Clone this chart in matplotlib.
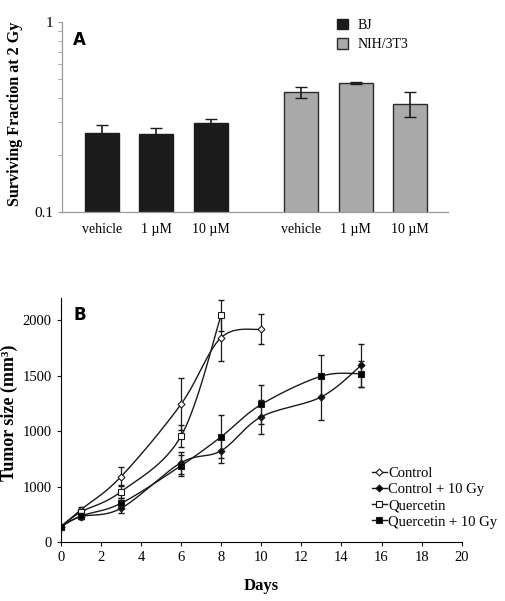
import numpy as np
import matplotlib
matplotlib.use('Agg')
import matplotlib.pyplot as plt
from matplotlib.ticker import FixedLocator, NullFormatter

plt.rcParams['font.family'] = ['Liberation Serif', 'DejaVu Serif']

# Panel A - surviving fraction at 2 Gy
dose_labels = ['vehicle', '1 \u00b5M', '10 \u00b5M']
bj_sf = [0.262, 0.258, 0.293]
bj_err = [0.027, 0.018, 0.018]
nih_sf = [0.428, 0.477, 0.373]
nih_err = [0.027, 0.006, 0.055]

# Panel B - tumor growth
days_short = [0, 1, 3, 6, 8]
days_ctrl = [0, 1, 3, 6, 8, 10]
days_long = [0, 1, 3, 6, 8, 10, 13, 15]
control = [138, 290, 588, 1243, 1844, 1919]
control_err = [0, 30, 85, 232, 213, 135]
control_irr = [138, 228, 303, 715, 823, 1129, 1309, 1595]
control_irr_err = [0, 25, 45, 100, 108, 155, 210, 195]
quercetin = [138, 270, 453, 955, 2045]
quercetin_err = [0, 25, 60, 100, 140]
quercetin_irr = [138, 234, 348, 688, 949, 1241, 1496, 1517]
quercetin_irr_err = [0, 30, 50, 95, 195, 175, 190, 117]
ytick_vals = [0, 500, 1000, 1500, 2000]
ytick_text = ['0', '1000', '1000', '1500', '2000']


def smooth(x, y, n=30):
    # Excel-style smoothed line (Bezier through the points)
    x = np.asarray(x, float)
    y = np.asarray(y, float)
    xs, ys = [], []
    for i in range(len(x) - 1):
        p0 = np.array([x[max(i - 1, 0)], y[max(i - 1, 0)]])
        p1 = np.array([x[i], y[i]])
        p2 = np.array([x[i + 1], y[i + 1]])
        p3 = np.array([x[min(i + 2, len(x) - 1)], y[min(i + 2, len(x) - 1)]])
        c1 = p1 + (p2 - p0) / 6
        c2 = p2 - (p3 - p1) / 6
        t = np.linspace(0, 1, n)[:, None]
        pts = (1 - t) ** 3 * p1 + 3 * (1 - t) ** 2 * t * c1 + 3 * (1 - t) * t ** 2 * c2 + t ** 3 * p2
        xs.extend(pts[:, 0])
        ys.extend(pts[:, 1])
    return xs, ys


fig = plt.figure(figsize=(5.06, 6.01), dpi=100)

# ---- Panel A ----
axA = fig.add_axes([0.1225, 0.647, 0.7625, 0.316])
pos_bj = np.arange(3)
pos_nih = np.arange(3) + 3.65
axA.bar(pos_bj, bj_sf, width=0.62, color='#1c1c1c', edgecolor='#1c1c1c', label='BJ')
axA.bar(pos_nih, nih_sf, width=0.62, color='#a9a9a9', edgecolor='#2a2a2a', linewidth=1.0, label='NIH/3T3')
axA.errorbar(pos_bj, bj_sf, yerr=bj_err, fmt='none', ecolor='#1c1c1c', capsize=4, elinewidth=1.2)
axA.errorbar(pos_nih, nih_sf, yerr=nih_err, fmt='none', ecolor='#1c1c1c', capsize=4, elinewidth=1.2)
axA.set_yscale('log')
axA.set_ylim(0.1, 1)
axA.set_xlim(-0.73, 5.65 + 0.69)
axA.set_xticks(list(pos_bj) + list(pos_nih))
axA.set_xticklabels(dose_labels * 2, fontsize=10)
axA.tick_params(axis='x', length=0, pad=8)
axA.yaxis.set_major_locator(FixedLocator([0.1, 1]))
axA.set_yticklabels(['0.1', '1'])
axA.yaxis.set_minor_locator(FixedLocator([0.2, 0.3, 0.4, 0.5, 0.6, 0.7, 0.8, 0.9]))
axA.yaxis.set_minor_formatter(NullFormatter())
axA.tick_params(axis='y', which='both', length=3, color='#9a9a9a', labelsize=11)
for s in ['top', 'right']:
    axA.spines[s].set_visible(False)
for s in ['left', 'bottom']:
    axA.spines[s].set_color('#9a9a9a')
    axA.spines[s].set_linewidth(0.9)
axA.set_ylabel('Surviving Fraction at 2 Gy', fontsize=11.6, fontweight='bold')
axA.yaxis.set_label_coords(-0.101, 0.516)
axA.text(0.028, 0.953, 'A', transform=axA.transAxes, fontsize=12, fontweight='bold',
         family='DejaVu Sans', va='top')
axA.legend(loc='upper left', bbox_to_anchor=(0.68, 1.085), frameon=False, fontsize=10,
           handlelength=0.8, handleheight=0.8, handletextpad=0.7, labelspacing=0.45)

# ---- Panel B ----
axB = fig.add_axes([0.12, 0.0982, 0.7925, 0.4058])
series = [
    (days_ctrl, control, control_err, 'D', 'white', 3.5, 'Control'),
    (days_long, control_irr, control_irr_err, 'D', 'black', 3.5, 'Control + 10 Gy'),
    (days_short, quercetin, quercetin_err, 's', 'white', 4.5, 'Quercetin'),
    (days_long, quercetin_irr, quercetin_irr_err, 's', 'black', 5, 'Quercetin + 10 Gy'),
]
for d, v, e, mk, fc, ms, lab in series:
    sx, sy = smooth(d, v)
    axB.plot(sx, sy, color='#1a1a1a', linewidth=1.0)
    axB.errorbar(d, v, yerr=e, fmt='none', ecolor='#1a1a1a', elinewidth=0.9, capsize=2)
    axB.plot(d, v, linestyle='-', linewidth=0, marker=mk, markersize=ms,
             markerfacecolor=fc, markeredgecolor='#1a1a1a', markeredgewidth=0.8)
    axB.plot([], [], color='#1a1a1a', linewidth=1.0, marker=mk, markersize=ms,
             markerfacecolor=fc, markeredgecolor='#1a1a1a', markeredgewidth=0.8, label=lab)

axB.set_xlim(0, 20)
axB.set_ylim(0, 2200)
axB.set_xticks(range(0, 21, 2))
axB.set_yticks(ytick_vals)
axB.set_yticklabels(ytick_text)
axB.tick_params(axis='both', length=3, labelsize=10.5, color='#1a1a1a')
for s in ['top', 'right']:
    axB.spines[s].set_visible(False)
axB.spines['left'].set_bounds(0, 2200)
axB.set_xlabel('Days', fontsize=12, fontweight='bold', labelpad=10)
axB.set_ylabel('Tumor size (mm\u00b3)', fontsize=13, fontweight='bold')
axB.yaxis.set_label_coords(-0.106, 0.53)
axB.text(0.031, 0.967, 'B', transform=axB.transAxes, fontsize=12, fontweight='bold',
         family='DejaVu Sans', va='top')
axB.legend(loc='lower left', bbox_to_anchor=(0.758, 0.025), frameon=False, fontsize=10.5,
           handlelength=1.0, handletextpad=0.1, labelspacing=0.2, borderpad=0)

fig.savefig('out.png', dpi=100)
